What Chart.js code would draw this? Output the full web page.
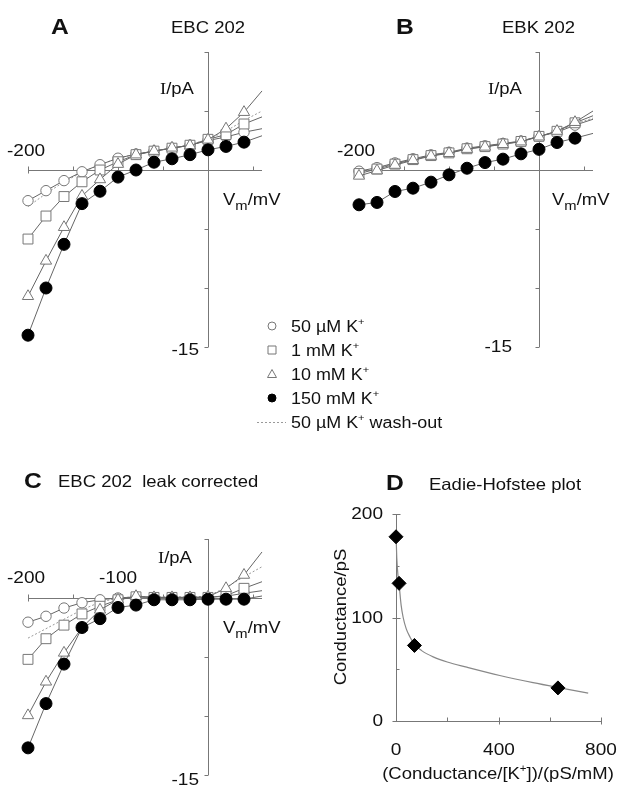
<!DOCTYPE html>
<html>
<head>
<meta charset="utf-8">
<script src="https://cdn.jsdelivr.net/npm/chart.js@4"></script>
<style>
    body { margin: 0; background: #fff; }
    #wrap { position: relative; width: 619px; height: 787px; }
    canvas { position: absolute; left: 0; top: 0; }
</style>
</head>
<body>
<div id="wrap">
    <canvas id="chartA" width="619" height="787"></canvas>
    <canvas id="chartB" width="619" height="787"></canvas>
    <canvas id="chartC" width="619" height="787"></canvas>
    <canvas id="chartD" width="619" height="787"></canvas>
</div>
<script>
// membrane potential (mV); the last entry is only the end of the fitted line, no marker
const VM = [-200, -180, -160, -140, -120, -100, -80, -60, -40, -20, 0, 20, 40, 60];

// panel A - EBC 202 (pA)
const A_50UM  = [-2.6, -1.75, -0.9, -0.15, 0.45, 1.0, 1.35, 1.6, 1.85, 2.1, 2.5, 2.8, 3.2, 3.5];
const A_1MM   = [-5.85, -3.9, -2.25, -1.0, 0.0, 0.7, 1.3, 1.6, 1.85, 2.1, 2.6, 3.0, 3.9, 4.5];
const A_10MM  = [-10.7, -7.7, -4.85, -2.2, -0.8, 0.5, 1.3, 1.6, 1.88, 2.07, 2.56, 3.5, 4.9, 6.7];
const A_150MM = [-14.0, -10.0, -6.3, -2.85, -1.8, -0.6, 0.0, 0.66, 0.95, 1.3, 1.71, 2.0, 2.36, 2.9];
const A_WASH  = [-3.1, -2.0, -1.0, -0.2, 0.45, 1.0, 1.35, 1.6, 1.85, 2.15, 2.6, 3.3, 4.2, 5.0];

// panel B - EBK 202 (pA)
const B_50UM  = [-0.1, 0.2, 0.6, 0.95, 1.28, 1.5, 1.85, 2.05, 2.25, 2.45, 2.85, 3.2, 3.8, 4.3];
const B_1MM   = [-0.3, 0.08, 0.5, 0.88, 1.22, 1.45, 1.8, 1.98, 2.2, 2.42, 2.85, 3.28, 4.0, 4.6];
const B_10MM  = [-0.5, -0.05, 0.42, 0.82, 1.18, 1.42, 1.77, 1.96, 2.18, 2.4, 2.82, 3.3, 4.05, 5.0];
const B_150MM = [-2.95, -2.75, -1.82, -1.54, -1.03, -0.41, 0.15, 0.63, 0.92, 1.37, 1.75, 2.33, 2.7, 3.1];
const B_WASH  = [-0.2, 0.15, 0.55, 0.9, 1.25, 1.48, 1.82, 2.0, 2.22, 2.44, 2.84, 3.25, 3.9, 4.4];

// panel C - EBC 202 leak corrected (pA)
const C_50UM  = [-2.05, -1.55, -0.85, -0.4, -0.15, 0.0, 0.1, 0.05, 0.05, 0.05, 0.05, 0.15, 0.4, 0.62];
const C_1MM   = [-5.2, -3.45, -2.3, -1.35, -0.7, -0.15, 0.1, 0.05, 0.05, 0.05, 0.05, 0.2, 0.82, 1.38];
const C_10MM  = [-9.95, -7.1, -4.65, -2.5, -1.0, -0.15, 0.15, 0.05, 0.05, 0.05, 0.1, 0.82, 1.95, 3.9];
const C_150MM = [-12.7, -8.95, -5.6, -2.5, -1.75, -0.8, -0.6, -0.15, -0.15, -0.15, -0.1, -0.1, -0.1, 0.17];
const C_WASH  = [-3.4, -2.6, -1.8, -1.0, -0.35, 0.0, 0.1, 0.1, 0.1, 0.1, 0.15, 0.9, 1.8, 2.65];

// panel D - Eadie-Hofstee
const D_RATIO = [0, 12, 72, 632];
const D_COND  = [178, 133, 73, 32];
const FIT_RATIO = [0, 3, 8, 12, 20, 28, 40, 55, 72, 100, 145, 200, 276, 405, 535, 640, 750];
const FIT_COND  = [182, 158, 140, 132, 112, 100, 89, 81, 74, 68, 62, 57, 52, 44, 37, 32, 27];

const LEGEND_LABELS = ['50 µM K', '1 mM K', '10 mM K', '150 mM K', '50 µM K'];

const W = 619, H = 787;
const SANS = '"Liberation Sans", Arial, sans-serif';
const SERIF = '"Liberation Serif", "Times New Roman", serif';
const HS = 1.12; // the figure's lettering is a bit wide

const STYLES = {
    s150: { pointStyle: 'circle', radius: 6, fill: '#000', edge: '#000' },
    s10:  { pointStyle: 'triangle', radius: 6.5, fill: '#fff', edge: '#777' },
    s1:   { pointStyle: 'rect', radius: 7, fill: '#fff', edge: '#777' },
    s50:  { pointStyle: 'circle', radius: 5.2, fill: '#fff', edge: '#777' }
};

function toPoints(xs, ys) {
    return xs.map((x, i) => ({ x: x, y: ys[i] }));
}

function markerSet(ys, st) {
    const last = VM.length - 1;
    return {
        data: toPoints(VM, ys),
        showLine: true,
        borderColor: '#666',
        borderWidth: 1,
        pointStyle: st.pointStyle,
        pointRadius: ctx => ctx.dataIndex === last ? 0 : st.radius,
        pointBackgroundColor: st.fill,
        pointBorderColor: st.edge,
        pointBorderWidth: 1,
        clip: false
    };
}

function washSet(ys) {
    return {
        data: toPoints(VM, ys),
        showLine: true,
        borderColor: '#999',
        borderWidth: 1,
        borderDash: [2, 2],
        pointRadius: 0,
        clip: false
    };
}

function drawRich(ctx, segs, x, y, opt) {
    const size = opt.size || 16.5;
    const fontOf = s => {
        const sz = (s.sub || s.sup) ? size * (s.sup ? 0.62 : 0.8) : size;
        return (opt.bold ? 'bold ' : '') + sz + 'px ' + (s.serif ? SERIF : SANS);
    };
    ctx.save();
    ctx.translate(x, y);
    if (opt.rotate) ctx.rotate(opt.rotate);
    ctx.scale(HS, 1);
    let w = 0;
    segs.forEach(s => { ctx.font = fontOf(s); w += ctx.measureText(s.t).width; });
    let cx = opt.align === 'right' ? -w : opt.align === 'center' ? -w / 2 : 0;
    ctx.textBaseline = opt.middle ? 'middle' : 'alphabetic';
    ctx.fillStyle = '#111';
    segs.forEach(s => {
        ctx.font = fontOf(s);
        const dy = s.sub ? size * 0.32 : s.sup ? -size * 0.42 : 0;
        ctx.fillText(s.t, cx, dy);
        cx += ctx.measureText(s.t).width;
    });
    ctx.restore();
}

function txt(t, x, y, opt) {
    const segs = typeof t === 'string' ? [{ t: t }] : t;
    return Object.assign({ segs: segs, x: x, y: y }, opt || {});
}

const IPA = [{ t: 'I', serif: true }, { t: '/pA' }];
const VMV = [{ t: 'V' }, { t: 'm', sub: true }, { t: '/mV' }];

function crossAxes(xTicks, yTicks) {
    return chart => {
        const { ctx, chartArea: a, scales: { x, y } } = chart;
        const x0 = Math.round(x.getPixelForValue(0)) + 0.5;
        const y0 = Math.round(y.getPixelForValue(0)) + 0.5;
        ctx.save();
        ctx.strokeStyle = '#777';
        ctx.lineWidth = 1;
        ctx.beginPath();
        ctx.moveTo(a.left, y0); ctx.lineTo(a.right, y0);
        ctx.moveTo(x0, a.top); ctx.lineTo(x0, a.bottom);
        xTicks.forEach(v => {
            const px = Math.round(x.getPixelForValue(v)) + 0.5;
            ctx.moveTo(px, y0 + (v === xTicks[0] ? 3 : 0)); ctx.lineTo(px, y0 - 4);
        });
        yTicks.forEach(v => {
            const py = Math.round(y.getPixelForValue(v)) + 0.5;
            ctx.moveTo(x0, py); ctx.lineTo(x0 - 4, py);
        });
        ctx.stroke();
        ctx.restore();
    };
}

function decor(drawAxes, texts, extra) {
    return {
        id: 'decor',
        beforeDatasetsDraw(chart) { drawAxes(chart); },
        afterDraw(chart) {
            texts.forEach(t => drawRich(chart.ctx, t.segs, t.x, t.y, t));
            if (extra) extra(chart);
        }
    };
}

function baseOptions(area, xMin, xMax, yMin, yMax) {
    return {
        responsive: false,
        animation: false,
        events: [],
        layout: { padding: { left: area.left, top: area.top, right: W - area.right, bottom: H - area.bottom } },
        plugins: { legend: { display: false }, tooltip: { enabled: false } },
        scales: {
            x: { type: 'linear', min: xMin, max: xMax, display: false },
            y: { type: 'linear', min: yMin, max: yMax, display: false }
        }
    };
}

function ivChart(id, area, yMin, yMax, s50, s1, s10, s150, wash, yTicks, texts, extra) {
    return new Chart(document.getElementById(id), {
        type: 'scatter',
        data: {
            datasets: [
                markerSet(s150, STYLES.s150),
                markerSet(s10, STYLES.s10),
                markerSet(s1, STYLES.s1),
                markerSet(s50, STYLES.s50),
                washSet(wash)
            ]
        },
        options: baseOptions(area, -200, 60, yMin, yMax),
        plugins: [decor(crossAxes([-200, -150, -100, -50, 50], yTicks), texts, extra)]
    });
}

// legend between the panels, drawn on chart A's canvas
function drawLegend(chart) {
    const ctx = chart.ctx;
    const mx = 272, tx = 291;
    const rows = [326, 350, 374, 398, 422];
    const kinds = ['s50', 's1', 's10', 's150'];
    ctx.save();
    ctx.lineWidth = 1;
    rows.forEach((ry, i) => {
        ctx.beginPath();
        if (i === 4) {
            ctx.strokeStyle = '#999';
            ctx.setLineDash([2, 2]);
            ctx.moveTo(257, ry + 0.5); ctx.lineTo(286, ry + 0.5);
            ctx.stroke();
            ctx.setLineDash([]);
        } else {
            const st = STYLES[kinds[i]];
            ctx.strokeStyle = st.edge;
            ctx.fillStyle = st.fill;
            if (st.pointStyle === 'circle') ctx.arc(mx, ry, 4, 0, Math.PI * 2);
            else if (st.pointStyle === 'rect') ctx.rect(mx - 4, ry - 4, 8, 8);
            else { ctx.moveTo(mx, ry - 4.5); ctx.lineTo(mx + 4.5, ry + 3.5); ctx.lineTo(mx - 4.5, ry + 3.5); ctx.closePath(); }
            ctx.fill();
            ctx.stroke();
        }
        const segs = [{ t: LEGEND_LABELS[i] }, { t: '+', sup: true }];
        if (i === 4) segs.push({ t: ' wash-out' });
        drawRich(ctx, segs, tx, ry + 6, { size: 16 });
    });
    ctx.restore();
}

const TICK = { size: 17 };

ivChart('chartA', { left: 28, right: 262, top: 52, bottom: 347 }, -15, 10,
    A_50UM, A_1MM, A_10MM, A_150MM, A_WASH, [-15, -10, -5, 5, 10], [
        txt('A', 51, 34, { size: 22, bold: true }),
        txt('EBC 202', 171, 33),
        txt(IPA, 160, 94),
        txt(VMV, 223, 205),
        txt('-200', 7, 156, TICK),
        txt('-15', 199, 355, Object.assign({ align: 'right' }, TICK))
    ], drawLegend);

ivChart('chartB', { left: 359, right: 593, top: 52, bottom: 347 }, -15, 10,
    B_50UM, B_1MM, B_10MM, B_150MM, B_WASH, [-15, -10, -5, 5, 10], [
        txt('B', 396, 34, { size: 22, bold: true }),
        txt('EBK 202', 502, 33),
        txt(IPA, 488, 94),
        txt(VMV, 552, 205),
        txt('-200', 337, 156, TICK),
        txt('-15', 512, 352, Object.assign({ align: 'right' }, TICK))
    ]);

ivChart('chartC', { left: 28, right: 262, top: 539, bottom: 775 }, -15, 5,
    C_50UM, C_1MM, C_10MM, C_150MM, C_WASH, [-15, -10, -5, 5], [
        txt('C', 24, 488, { size: 22, bold: true }),
        txt('EBC 202  leak corrected', 58, 487),
        txt(IPA, 158, 563),
        txt(VMV, 223, 633),
        txt('-200', 7, 583, TICK),
        txt('-100', 99, 583, TICK),
        txt('-15', 199, 785, Object.assign({ align: 'right' }, TICK))
    ]);

// panel D axes: left and bottom
function dAxes(chart) {
    const { ctx, chartArea: a, scales: { x, y } } = chart;
    const x0 = Math.round(x.getPixelForValue(0)) + 0.5;
    const y0 = Math.round(y.getPixelForValue(0)) + 0.5;
    ctx.save();
    ctx.strokeStyle = '#777';
    ctx.lineWidth = 1;
    ctx.beginPath();
    ctx.moveTo(x0, a.top); ctx.lineTo(x0, y0);
    ctx.lineTo(a.right, y0);
    [0, 100, 200].forEach(v => {
        const py = Math.round(y.getPixelForValue(v)) + 0.5;
        ctx.moveTo(x0 - 4, py); ctx.lineTo(x0 + 4, py);
    });
    [50, 150].forEach(v => {
        const py = Math.round(y.getPixelForValue(v)) + 0.5;
        ctx.moveTo(x0, py); ctx.lineTo(x0 + 3, py);
    });
    [200, 400, 600, 800].forEach(v => {
        const px = Math.round(x.getPixelForValue(v)) + 0.5;
        ctx.moveTo(px, y0 + (v % 400 === 0 ? 3 : 0)); ctx.lineTo(px, y0 - 4);
    });
    ctx.stroke();
    ctx.restore();
}

new Chart(document.getElementById('chartD'), {
    type: 'scatter',
    data: {
        datasets: [
            {
                data: toPoints(D_RATIO, D_COND),
                pointStyle: 'rectRot',
                pointRadius: 7,
                pointBackgroundColor: '#000',
                pointBorderColor: '#000',
                clip: false
            },
            {
                data: toPoints(FIT_RATIO, FIT_COND),
                showLine: true,
                borderColor: '#888',
                borderWidth: 1.2,
                cubicInterpolationMode: 'monotone',
                pointRadius: 0,
                clip: false
            }
        ]
    },
    options: baseOptions({ left: 396, right: 601, top: 514, bottom: 721 }, 0, 800, 0, 200),
    plugins: [decor(dAxes, [
        txt('D', 386, 490, { size: 22, bold: true }),
        txt('Eadie-Hofstee plot', 429, 490),
        txt('200', 383, 514, { align: 'right', middle: true, size: 17 }),
        txt('100', 383, 618, { align: 'right', middle: true, size: 17 }),
        txt('0', 383, 721, { align: 'right', middle: true, size: 17 }),
        txt('0', 396, 755, { align: 'center', size: 17 }),
        txt('400', 499, 755, { align: 'center', size: 17 }),
        txt('800', 601, 755, { align: 'center', size: 17 }),
        txt([{ t: '(Conductance/[K' }, { t: '+', sup: true }, { t: '])/(pS/mM)' }], 498, 779, { align: 'center' }),
        txt('Conductance/pS', 341, 617, { align: 'center', middle: true, rotate: -Math.PI / 2 })
    ])]
});
</script>
</body>
</html>
